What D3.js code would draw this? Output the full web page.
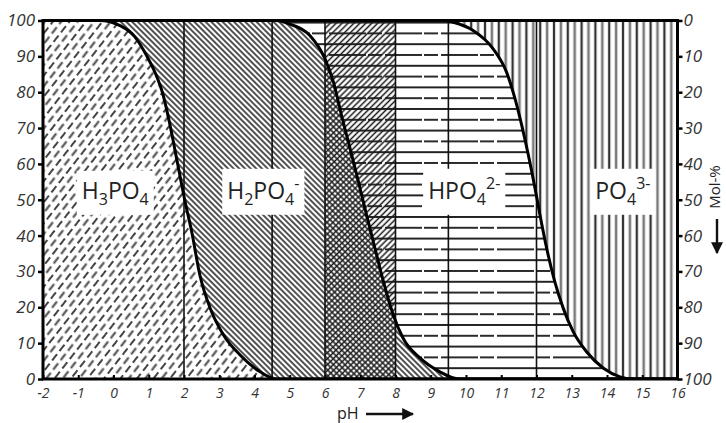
<!DOCTYPE html>
<html><head><meta charset="utf-8">
<script src="https://cdn.jsdelivr.net/npm/d3@7"></script>
<style>body{margin:0;background:#fff;overflow:hidden} svg{display:block}</style>
</head><body>
<svg id="c" width="726" height="423"></svg>
<script>
// ---------- data ----------
const xTickLabels = [-2,-1,0,1,2,3,4,5,6,7,8,9,10,11,12,13,14,15,16];
const leftTickValues = [0,10,20,30,40,50,60,70,80,90,100];
const rightTickLabels = [100,90,80,70,60,50,40,30,20,10,0];

// curve 1: H3PO4 mol-% vs pH
const c1pH  = [-2,-0.4,0.2,0.6,0.95,1.2,1.4,1.6,1.8,2.03,2.22,2.45,2.74,3.12,3.59,4.16,4.6,16];
const c1Pct = [100,100,98.5,95.5,90,85,79.5,71,61,49.5,41,29,19.8,12.3,6.7,2,0,0];
// curve 2: H3PO4 + H2PO4- cumulative mol-%
const c2pH  = [-2,4.6,5.0,5.57,6.0,6.24,6.47,6.71,6.95,7.18,7.42,7.66,7.94,8.22,8.7,9.26,9.8,16];
const c2Pct = [100,100,99,95.8,89.3,82.8,73.5,64.3,55,45.7,36.4,27.1,17.8,11.3,5.8,2,0,0];
// curve 3: H3PO4 + H2PO4- + HPO4 2- cumulative mol-%
const c3pH  = [-2,9.4,9.64,10.2,10.77,11.15,11.39,11.58,11.77,11.96,12.1,12.29,12.52,12.76,13.04,13.42,13.9,14.37,14.7,16];
const c3Pct = [100,100,99.5,97.2,92.1,85.6,78.2,70.8,62.4,53.1,45.7,36.4,27.1,19.7,13.2,7.6,3,0.6,0,0];

const markerPH = [2, 4.5, 6, 8, 9.5, 12];
const bufferRange = [6, 8];

// species labels: parts [text, kind]
const labelParts = [
  [["H",""],["3","sub"],["PO",""],["4","sub"]],
  [["H",""],["2","sub"],["PO",""],["4","sub"],["-","sup"]],
  [["HPO",""],["4","sub"],["2-","sup"]],
  [["PO",""],["4","sub"],["3-","sup"]]
];
const labelPH  = [0.05, 4.25, 9.95, 14.45];
const labelPct = [52.5, 52.5, 52.5, 52.5];

// ---------- chart ----------
const svg = d3.select("#c");
const x = d3.scaleLinear().domain([-2,16]).range([43, 677.5]);
const y = d3.scaleLinear().domain([0,100]).range([379, 20.5]);
const defs = svg.append("defs");

function pat(id, w, h, transform, bg) {
  const p = defs.append("pattern").attr("id", id).attr("patternUnits","userSpaceOnUse")
    .attr("width", w).attr("height", h);
  if (transform) p.attr("patternTransform", transform);
  if (bg) p.append("rect").attr("width", w).attr("height", h).attr("fill", "#fff");
  return p;
}
// H3PO4: dashed "/"
let p = pat("pA", 12, 13, "rotate(-52)", true);
p.append("path").attr("d","M0,3 H8 M5.5,9.5 H12 M0,9.5 H1.5").attr("stroke","#444").attr("stroke-width",1.8);
// H2PO4-: "\"
p = pat("pB", 8, 4, "rotate(45)", true);
p.append("path").attr("d","M-1,2 H9").attr("stroke","#262626").attr("stroke-width",1.6);
// HPO4 2-: horizontal
p = pat("pC", 56, 21.6, null, true);
p.append("path").attr("d","M0,1 H56").attr("stroke","#222").attr("stroke-width",2);
p.append("path").attr("d","M0,11.8 H56").attr("stroke","#2a2a2a").attr("stroke-width",2).attr("stroke-dasharray","30,2,14,3,7");
// PO4 3-: vertical
p = pat("pD", 13.8, 40, null, true);
p.append("path").attr("d","M2,0 V40").attr("stroke","#333").attr("stroke-width",2.3);
p.append("path").attr("d","M8.9,0 V40").attr("stroke","#7a7a7a").attr("stroke-width",2.6);
// buffer overlay "/"
p = pat("pE", 8, 4.2, "rotate(-45)", false);
p.append("path").attr("d","M-1,2.1 H9").attr("stroke","#1a1a1a").attr("stroke-width",1.5);

defs.append("clipPath").attr("id","plotClip").append("rect")
  .attr("x", x(-2)).attr("y", y(100)).attr("width", x(16)-x(-2)).attr("height", y(0)-y(100));

const g = svg.append("g").attr("clip-path","url(#plotClip)");

const toPts = (xs, ys) => xs.map((v,i)=>[v, ys[i]]);
const curve = d3.curveMonotoneX;
const area = d3.area().x(d=>x(d[0])).y0(y(0)).y1(d=>y(d[1])).curve(curve);
const line = d3.line().x(d=>x(d[0])).y(d=>y(d[1])).curve(curve);
const pts1 = toPts(c1pH, c1Pct), pts2 = toPts(c2pH, c2Pct), pts3 = toPts(c3pH, c3Pct);

g.append("rect").attr("x", x(-2)).attr("y", y(100)).attr("width", x(16)-x(-2)).attr("height", y(0)-y(100))
  .attr("fill","url(#pD)");
g.append("path").datum(pts3).attr("d", area).attr("fill","url(#pC)");
g.append("path").datum(pts2).attr("d", area).attr("fill","url(#pB)");
g.append("path").datum(pts1).attr("d", area).attr("fill","url(#pA)");
g.append("rect").attr("x", x(bufferRange[0])).attr("y", y(100))
  .attr("width", x(bufferRange[1])-x(bufferRange[0])).attr("height", y(0)-y(100)).attr("fill","url(#pE)");

g.selectAll("line.mk").data(markerPH).join("line").attr("class","mk")
  .attr("x1", d=>x(d)).attr("x2", d=>x(d)).attr("y1", y(100)).attr("y2", y(0))
  .attr("stroke","#111").attr("stroke-width",1.6);

[pts1, pts2, pts3].forEach(pts => {
  g.append("path").datum(pts).attr("d", line).attr("fill","none")
    .attr("stroke","#000").attr("stroke-width",3);
});

const font = "'Open Sans', 'Liberation Sans', sans-serif";
labelParts.forEach((parts, i) => {
  const lg = svg.append("g");
  const rect = lg.append("rect").attr("fill","#fff");
  const t = lg.append("text").attr("x", x(labelPH[i])).attr("y", y(labelPct[i]) + 8)
    .attr("text-anchor","middle").attr("font-family", font).attr("font-size", 23).attr("fill","#222");
  let shift = 0;
  parts.forEach(([s, kind]) => {
    const target = kind === "sub" ? 6 : kind === "sup" ? -10 : 0;
    const ts = t.append("tspan").text(s).attr("dy", target - shift);
    if (kind) ts.attr("font-size", 16);
    shift = target;
  });
  const bb = t.node().getBBox();
  rect.attr("x", bb.x - 5).attr("y", bb.y - 3).attr("width", bb.width + 10).attr("height", bb.height + 8);
});

svg.append("rect").attr("x", x(-2)).attr("y", y(100)).attr("width", x(16)-x(-2)).attr("height", y(0)-y(100))
  .attr("fill","none").attr("stroke","#000").attr("stroke-width",3);

function styleAxis(sel, tw) {
  sel.select(".domain").remove();
  sel.selectAll(".tick line").attr("stroke","#000").attr("stroke-width", tw);
  sel.selectAll(".tick text").attr("font-family", font).attr("font-style","italic").attr("fill","#333");
}
const ax1 = svg.append("g").attr("transform",`translate(${x(-2)},0)`)
  .call(d3.axisLeft(y).tickValues(leftTickValues).tickSize(5).tickPadding(3).tickFormat(d=>String(d)));
styleAxis(ax1, 2.5); ax1.selectAll(".tick text").attr("font-size", 17);

const ax2 = svg.append("g").attr("transform",`translate(${x(16)},0)`)
  .call(d3.axisRight(y).tickValues(leftTickValues).tickSize(5).tickPadding(1)
    .tickFormat((d,i)=>String(rightTickLabels[i])));
styleAxis(ax2, 2.5); ax2.selectAll(".tick text").attr("font-size", 17);

const ax3 = svg.append("g").attr("transform",`translate(0,${y(0)})`)
  .call(d3.axisBottom(x).tickValues(xTickLabels).tickSize(-4).tickPadding(9).tickFormat(d=>String(d)));
styleAxis(ax3, 2); ax3.selectAll(".tick text").attr("font-size", 14);

svg.append("text").attr("x", 337).attr("y", 419).attr("font-family", font).attr("font-size", 16)
  .attr("fill","#222").text("pH");
defs.append("marker").attr("id","arr").attr("viewBox","0 0 10 10").attr("refX",9).attr("refY",5)
  .attr("markerWidth",5).attr("markerHeight",5).attr("orient","auto").attr("markerUnits","strokeWidth")
  .append("path").attr("d","M0,0 L10,5 L0,10 z").attr("fill","#111");
svg.append("line").attr("x1",366).attr("x2",413).attr("y1",414).attr("y2",414)
  .attr("stroke","#111").attr("stroke-width",2.4).attr("marker-end","url(#arr)");

svg.append("text").attr("transform","translate(720,187) rotate(-90)").attr("text-anchor","middle")
  .attr("font-family", font).attr("font-size", 15).attr("fill","#222").text("Mol-%");
svg.append("line").attr("x1",717).attr("x2",717).attr("y1",219).attr("y2",253)
  .attr("stroke","#111").attr("stroke-width",2.4).attr("marker-end","url(#arr)");
</script>
</body></html>
